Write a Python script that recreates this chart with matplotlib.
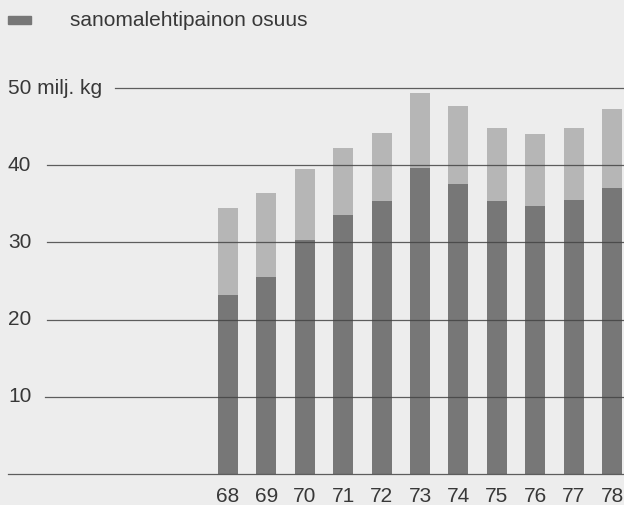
import numpy as np
import matplotlib.pyplot as plt

plt.rcParams['font.family'] = ['Liberation Sans', 'DejaVu Sans']

years = ['68', '69', '70', '71', '72', '73', '74', '75', '76', '77', '78']
total = [34.4, 36.4, 39.5, 42.2, 44.2, 49.4, 47.7, 44.8, 44.0, 44.8, 47.3]
newsprint = [23.2, 25.5, 30.3, 33.6, 35.3, 39.6, 37.6, 35.4, 34.7, 35.5, 37.1]
grid_values = [0, 10, 20, 30, 40, 50]
grid_labels = ['', '10', '20', '30', '40', '50 milj. kg']

bg = '#ededed'
dark = '#777777'
light = '#b6b6b6'

fig = plt.figure(figsize=(6.24, 5.05), dpi=100, facecolor=bg)
ax = fig.add_axes([0, 0, 1, 1])
ax.set_facecolor(bg)

px = 7.72  # pixels per unit
ax.set_ylim(-31 / px, 474 / px)
ax.set_xlim(-228 / 38.4, (624 - 228) / 38.4)
ax.axis('off')

x = np.arange(len(years))
rest = np.array(total) - np.array(newsprint)
ax.bar(x, newsprint, width=0.52, color=dark, zorder=2)
ax.bar(x, rest, bottom=newsprint, width=0.52, color=light, zorder=2)

# horizontal rules with labels at the left
starts = {0: 8, 10: 45, 20: 47, 30: 47, 40: 47, 50: 115}
for v, lab in zip(grid_values, grid_labels):
    ax.axhline(v, xmin=starts[v] / 624, xmax=1, color='#444444', lw=0.9,
               alpha=0.85, zorder=3)
    if lab:
        ax.text(8 / 624, v, lab, transform=ax.get_yaxis_transform(),
                ha='left', va='center', fontsize=15, color='#383838')

for xi, lab in zip(x, years):
    ax.text(xi, -23 / px, lab, ha='center', va='center', fontsize=15,
            color='#383838')

# legend
fig.patches.append(plt.Rectangle((8 / 624, 1 - 24 / 505), 23 / 624, 8 / 505,
                                 transform=fig.transFigure, color=dark))
fig.text(70 / 624, 1 - 20 / 505, 'sanomalehtipainon osuus', ha='left',
         va='center', fontsize=15, color='#383838')

fig.savefig('out.png', dpi=100, facecolor=bg)
